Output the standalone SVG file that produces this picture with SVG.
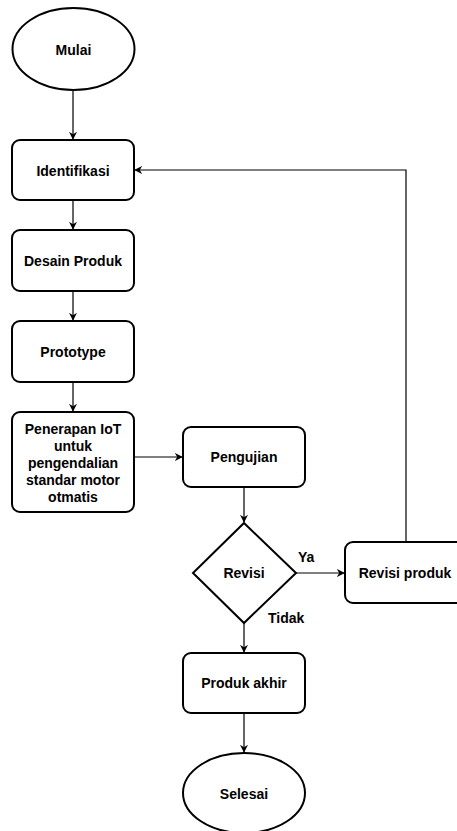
<svg xmlns="http://www.w3.org/2000/svg" width="457" height="831" viewBox="0 0 457 831">
<defs>
<marker id="arr" viewBox="0 0 10 10" refX="9" refY="5" markerWidth="8" markerHeight="8" markerUnits="userSpaceOnUse" orient="auto">
<path d="M0,0 L10,5 L0,10 L3,5 Z" fill="#000"/>
</marker>
<style>
.n{fill:#fff;stroke:#000;stroke-width:2}
.t{font-family:"Liberation Sans",Arial,sans-serif;font-weight:bold;font-size:14px;fill:#000;text-anchor:middle;dominant-baseline:central}
.l{font-family:"Liberation Sans",Arial,sans-serif;font-weight:bold;font-size:14px;fill:#000}
.c{fill:none;stroke:#000;stroke-width:1.2;marker-end:url(#arr)}
</style>
</defs>
<rect width="457" height="831" fill="#fff"/>
<g id="connectors">
<path class="c" d="M73,91 V139"/>
<path class="c" d="M73,201 V229"/>
<path class="c" d="M73,292 V320"/>
<path class="c" d="M73,383 V411"/>
<path class="c" d="M134,457 H182"/>
<path class="c" d="M244,488 V522"/>
<path class="c" d="M296,573 H344"/>
<path class="c" d="M406,542 V170 H135"/>
<path class="c" d="M244,623 V652"/>
<path class="c" d="M244,714 V752"/>
</g>
<g id="mulai"><ellipse class="n" cx="73.5" cy="49" rx="61" ry="41"/><text class="t" x="73.5" y="50">Mulai</text></g>
<g id="identifikasi"><rect class="n" x="12" y="140" width="122" height="60" rx="8"/><text class="t" x="73" y="171">Identifikasi</text></g>
<g id="desain"><rect class="n" x="12" y="230" width="122" height="61" rx="8"/><text class="t" x="73" y="261">Desain Produk</text></g>
<g id="prototype"><rect class="n" x="12" y="321" width="122" height="61" rx="8"/><text class="t" x="73" y="352">Prototype</text></g>
<g id="penerapan"><rect class="n" x="12" y="412" width="122" height="100" rx="8"/>
<text class="t" x="73"><tspan x="73" y="429">Penerapan IoT</tspan><tspan x="73" y="446">untuk</tspan><tspan x="73" y="463">pengendalian</tspan><tspan x="73" y="480">standar motor</tspan><tspan x="73" y="497">otmatis</tspan></text></g>
<g id="pengujian"><rect class="n" x="183" y="427" width="122" height="60" rx="8"/><text class="t" x="244" y="457">Pengujian</text></g>
<g id="revisi"><polygon class="n" points="244,523 296,573 244,623 193,573"/><text class="t" x="244" y="573">Revisi</text></g>
<g id="revisiproduk"><rect class="n" x="345" y="542" width="122" height="61" rx="8"/><text class="t" x="405" y="573">Revisi produk</text></g>
<g id="produkakhir"><rect class="n" x="183" y="653" width="122" height="60" rx="8"/><text class="t" x="244" y="683">Produk akhir</text></g>
<g id="selesai"><ellipse class="n" cx="244" cy="793" rx="61" ry="40"/><text class="t" x="244" y="794">Selesai</text></g>
<g id="labels">
<text class="l" x="298" y="562">Ya</text>
<text class="l" x="268" y="623">Tidak</text>
</g>
</svg>
